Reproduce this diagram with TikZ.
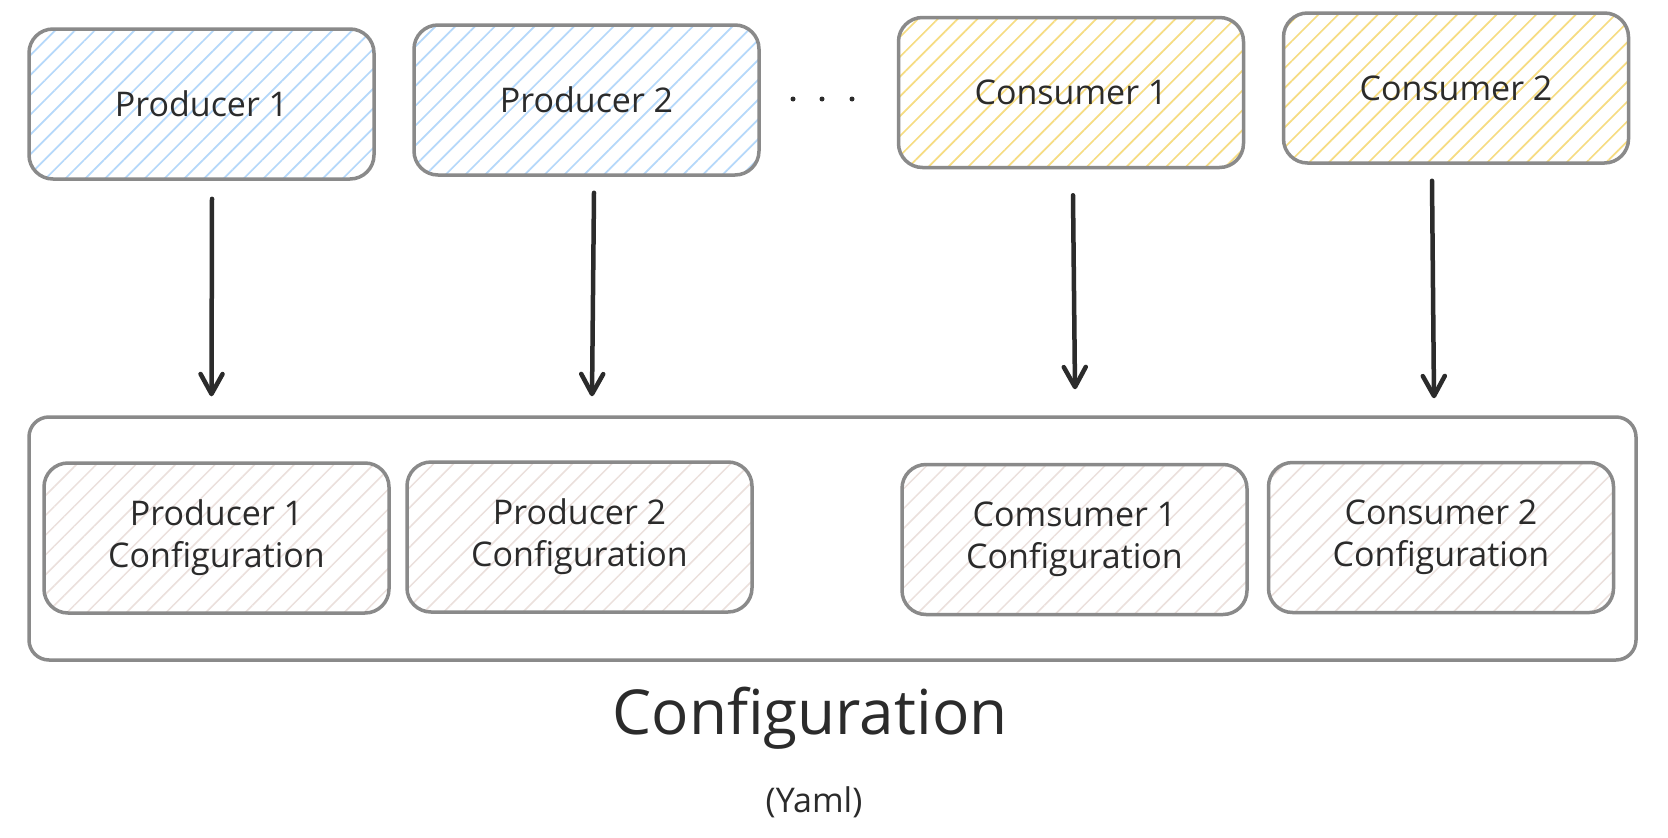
\documentclass[tikz,border=0pt]{standalone}
\usepackage{fontspec}
\setmainfont{Open Sans}
\usetikzlibrary{patterns.meta,arrows.meta}
\definecolor{stroke}{HTML}{8A8A8A}
\definecolor{ink}{HTML}{2B2B2B}
\definecolor{hblue}{HTML}{B5D8FA}
\definecolor{hyellow}{HTML}{F6DC82}
\definecolor{hgray}{HTML}{EBE0DC}
\tikzset{
  box/.style={draw=stroke, line width=3.5pt, rounded corners=24pt, inner sep=0pt,
    minimum width=345pt, minimum height=150pt, align=center, text=ink,
    font=\fontsize{34}{42}\selectfont},
  bluebox/.style={box, pattern={Lines[angle=45,distance=14pt,line width=1.7pt]}, pattern color=hblue},
  yellowbox/.style={box, pattern={Lines[angle=45,distance=14pt,line width=1.7pt]}, pattern color=hyellow},
  cfgbox/.style={box, pattern={Lines[angle=45,distance=14pt,line width=1.5pt]}, pattern color=hgray},
  conn/.style={draw=ink, line width=4.5pt, line cap=round, -{Straight Barb[length=20pt,width=22pt,line width=4.5pt,round]}},
  dotc/.style={circle, fill=ink, inner sep=0pt, minimum size=5pt},
}
\begin{document}
\begin{tikzpicture}[x=1pt,y=-1pt]
\useasboundingbox (0,0) rectangle (1668,838);
\fill[white] (0,0) rectangle (1668,838);
% container
\node[draw=stroke, line width=3.5pt, rounded corners=20pt, fill=white, minimum width=1607pt, minimum height=243pt, inner sep=0pt] (cont) at (832.5,538.5) {};
% top boxes
\node[bluebox] (p1) at (201.5,104) {Producer 1};
\node[bluebox] (p2) at (586.5,100) {Producer 2};
\node[yellowbox] (c1) at (1071,92.5) {Consumer 1};
\node[yellowbox] (c2) at (1456,88) {Consumer 2};
% dots
\node[dotc] (d1) at (793,99) {};
\node[dotc] (d2) at (822,99) {};
\node[dotc] (d3) at (852,99) {};
% inner config boxes
\node[cfgbox] (p1c) at (216.5,538) {Producer 1\\Configuration};
\node[cfgbox] (p2c) at (579.5,537) {Producer 2\\Configuration};
\node[cfgbox] (c1c) at (1074.5,539.5) {Comsumer 1\\Configuration};
\node[cfgbox] (c2c) at (1441,537.5) {Consumer 2\\Configuration};
% arrows
\coordinate (a1s) at ([xshift=10.5pt,yshift=-19pt]p1.south);
\coordinate (a1e) at ([xshift=10pt]p1.south |- cont.north);
\draw[conn] (a1s) -- ([yshift=19pt]a1e);
\coordinate (a2s) at ([xshift=7.5pt,yshift=-16pt]p2.south);
\coordinate (a2e) at ([xshift=5.5pt]p2.south |- cont.north);
\draw[conn] (a2s) -- ([yshift=19pt]a2e);
\coordinate (a3s) at ([xshift=2pt,yshift=-26pt]c1.south);
\coordinate (a3e) at ([xshift=4pt]c1.south |- cont.north);
\draw[conn] (a3s) -- ([yshift=26pt]a3e);
\coordinate (a4s) at ([xshift=-24pt,yshift=-16pt]c2.south);
\coordinate (a4e) at ([xshift=-22pt]c2.south |- cont.north);
\draw[conn] (a4s) -- ([yshift=17pt]a4e);
% titles
\node[text=ink, font=\fontsize{62}{66}\selectfont, anchor=base] (title) at (810,734) {Configuration};
\node[text=ink, font=\fontsize{34}{40}\selectfont] (sub) at (814,802) {(Yaml)};
\end{tikzpicture}
\end{document}
